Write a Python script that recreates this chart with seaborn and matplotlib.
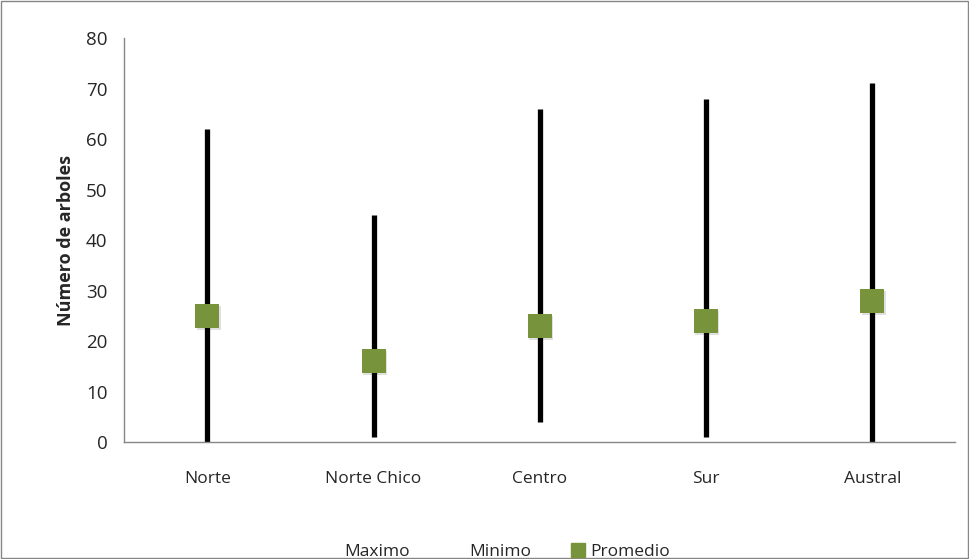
import matplotlib
matplotlib.use("Agg")
import matplotlib.pyplot as plt
from matplotlib.lines import Line2D
from matplotlib.patches import Rectangle
import seaborn as sns
import pandas as pd
import numpy as np

# Tree counts per zone: range (min-max) and mean
zonas = ["Norte", "Norte Chico", "Centro", "Sur", "Austral"]
maximo = [62, 45, 66, 68, 71]
minimo = [0, 1, 4, 1, 0]
promedio = [25, 16, 23, 24, 28]
y_ticks = [0, 10, 20, 30, 40, 50, 60, 70, 80]

df = pd.DataFrame({"zona": zonas, "maximo": maximo, "minimo": minimo, "promedio": promedio})

sns.set_theme(style="white")
plt.rcParams["font.family"] = ["Open Sans", "DejaVu Sans"]

fig = plt.figure(figsize=(9.7, 5.59), dpi=100)
ax = fig.add_axes([0.128, 0.209, 0.857, 0.723])

axis_grey = "#868686"
green = "#77933C"

# high-low lines
pos = np.arange(len(zonas))
ax.vlines(pos, df["minimo"], df["maximo"], color="black", linewidth=3.8, zorder=2)

# mean markers with a soft shadow
ax.scatter(pos + 0.008, df["promedio"] - 0.4, marker="s", s=300, color="#000000",
           alpha=0.12, linewidths=0, zorder=2.5)
sns.scatterplot(data=df.assign(x=pos), x="x", y="promedio", marker="s", s=290,
                color=green, edgecolor=green, linewidth=0, ax=ax, zorder=3, legend=False)

ax.set_xlim(-0.5, len(zonas) - 0.5)
ax.set_ylim(0, 80)
ax.set_yticks(y_ticks)
ax.set_yticklabels([str(v) for v in y_ticks], fontsize=13.5)
ax.set_xticks(pos)
ax.set_xticklabels(zonas, fontsize=12.5)
ax.set_xticks(np.arange(-0.5, len(zonas)), minor=True)
ax.tick_params(axis="x", which="major", length=0, pad=21)
ax.tick_params(axis="x", which="minor", length=6, width=1, color=axis_grey, direction="out")
ax.tick_params(axis="y", which="major", length=6, width=1, color=axis_grey, direction="out", pad=6)
ax.set_xlabel("")
ax.set_ylabel("Número de arboles", fontsize=13, fontweight="bold", labelpad=8)

for side in ["top", "right"]:
    ax.spines[side].set_visible(False)
for side in ["left", "bottom"]:
    ax.spines[side].set_color(axis_grey)
    ax.spines[side].set_linewidth(1)

handles = [
    Line2D([], [], linestyle="none", marker=None),
    Line2D([], [], linestyle="none", marker=None),
    Line2D([], [], linestyle="none", marker="s", markersize=10, color=green),
]
fig.legend(handles, ["Maximo", "Minimo", "Promedio"], loc="center",
           bbox_to_anchor=(0.513, 0.012), ncol=3, frameon=False, fontsize=12.5,
           handlelength=0.8, handletextpad=0.3, columnspacing=2.3)

# outer chart border
fig.patches.append(Rectangle((0.001, 0.002), 0.997, 0.996, transform=fig.transFigure,
                             fill=False, edgecolor=axis_grey, linewidth=1))

fig.savefig("out.png", dpi=100)
